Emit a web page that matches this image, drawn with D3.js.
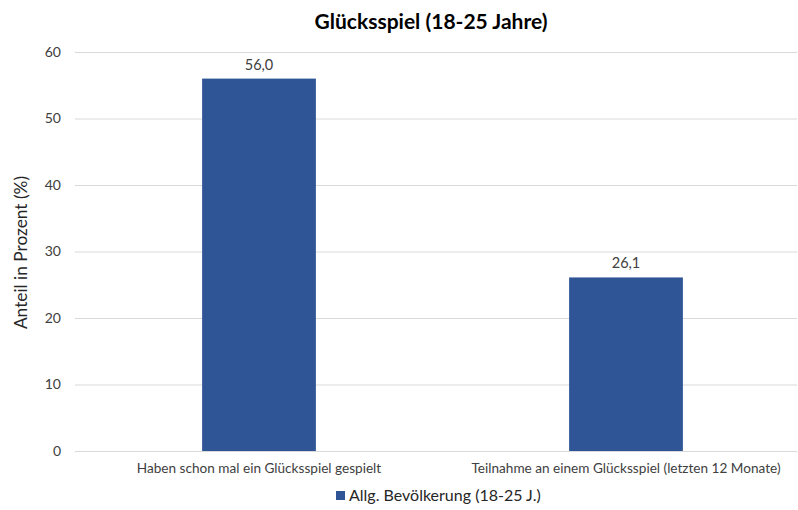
<!DOCTYPE html>
<html>
<head>
<meta charset="utf-8">
<script src="https://cdn.jsdelivr.net/npm/d3@7"></script>
<style>
  body { margin: 0; background: #fff; }
  text { font-family: Lato, "Open Sans", sans-serif; }
</style>
</head>
<body>
<div id="chart"></div>
<script>
const CATEGORIES = ["Haben schon mal ein Glücksspiel gespielt", "Teilnahme an einem Glücksspiel (letzten 12 Monate)"];
const VALUES = [56.0, 26.1];
const Y_TICKS = [0, 10, 20, 30, 40, 50, 60];
const SERIES_NAME = "Allg. Bevölkerung (18-25 J.)";
const TITLE = "Glücksspiel (18-25 Jahre)";
const Y_LABEL = "Anteil in Prozent (%)";

const W = 798, H = 510;
const plot = { left: 75, right: 797, top: 52, bottom: 451 };

const svg = d3.select("#chart").append("svg")
  .attr("width", W).attr("height", H);

const x = d3.scaleBand()
  .domain(CATEGORIES)
  .range([75.5, 809.5])
  .paddingInner(0.69)
  .paddingOuter(0.345);

const y = d3.scaleLinear()
  .domain([0, 60])
  .range([plot.bottom, plot.top]);

// gridlines
svg.append("g")
  .selectAll("line")
  .data(Y_TICKS)
  .join("line")
  .attr("x1", plot.left).attr("x2", plot.right)
  .attr("y1", d => y(d) + 0.5).attr("y2", d => y(d) + 0.5)
  .attr("stroke", "#d9d9d9").attr("stroke-width", 1);

// y axis labels
const yAxis = svg.append("g")
  .attr("transform", `translate(61,0)`)
  .call(d3.axisLeft(y).tickValues(Y_TICKS).tickSize(0).tickPadding(0));
yAxis.select(".domain").remove();
yAxis.selectAll("text")
  .style("font-family", "Lato, sans-serif")
  .style("font-size", "14px")
  .attr("fill", "#404040");

// bars
svg.append("g")
  .selectAll("rect")
  .data(CATEGORIES.map((c, i) => ({ cat: c, value: VALUES[i] })))
  .join("rect")
  .attr("x", d => x(d.cat))
  .attr("y", d => y(d.value))
  .attr("width", x.bandwidth())
  .attr("height", d => y(0) - y(d.value))
  .attr("fill", "#2f5597");

// value labels
svg.append("g")
  .selectAll("text")
  .data(CATEGORIES.map((c, i) => ({ cat: c, value: VALUES[i] })))
  .join("text")
  .attr("x", d => x(d.cat) + x.bandwidth() / 2)
  .attr("y", d => y(d.value) - 9)
  .attr("text-anchor", "middle")
  .attr("font-size", "14.5px")
  .attr("fill", "#404040")
  .text(d => d3.format(".1f")(d.value).replace(".", ","));

// x axis labels
const xAxis = svg.append("g")
  .attr("transform", `translate(0,${plot.bottom})`)
  .call(d3.axisBottom(x).tickSize(0).tickPadding(12));
xAxis.select(".domain").remove();
xAxis.selectAll("text")
  .style("font-family", "Lato, sans-serif")
  .style("font-size", "13.6px")
  .attr("fill", "#404040");

// title
svg.append("text")
  .attr("x", 431).attr("y", 29)
  .attr("text-anchor", "middle")
  .attr("font-size", "21px")
  .attr("font-weight", "bold")
  .attr("fill", "#000")
  .text(TITLE);

// y label
svg.append("text")
  .attr("transform", `translate(27,${(plot.top + plot.bottom) / 2 + 1}) rotate(-90)`)
  .attr("text-anchor", "middle")
  .attr("font-size", "17.3px")
  .attr("fill", "#262626")
  .text(Y_LABEL);

// legend
const legend = svg.append("g").attr("transform", "translate(336,491)");
legend.append("rect")
  .attr("width", 9).attr("height", 9)
  .attr("fill", "#2f5597");
legend.append("text")
  .attr("x", 13).attr("y", 10)
  .attr("font-size", "16px")
  .attr("fill", "#262626")
  .text(SERIES_NAME);
</script>
</body>
</html>
